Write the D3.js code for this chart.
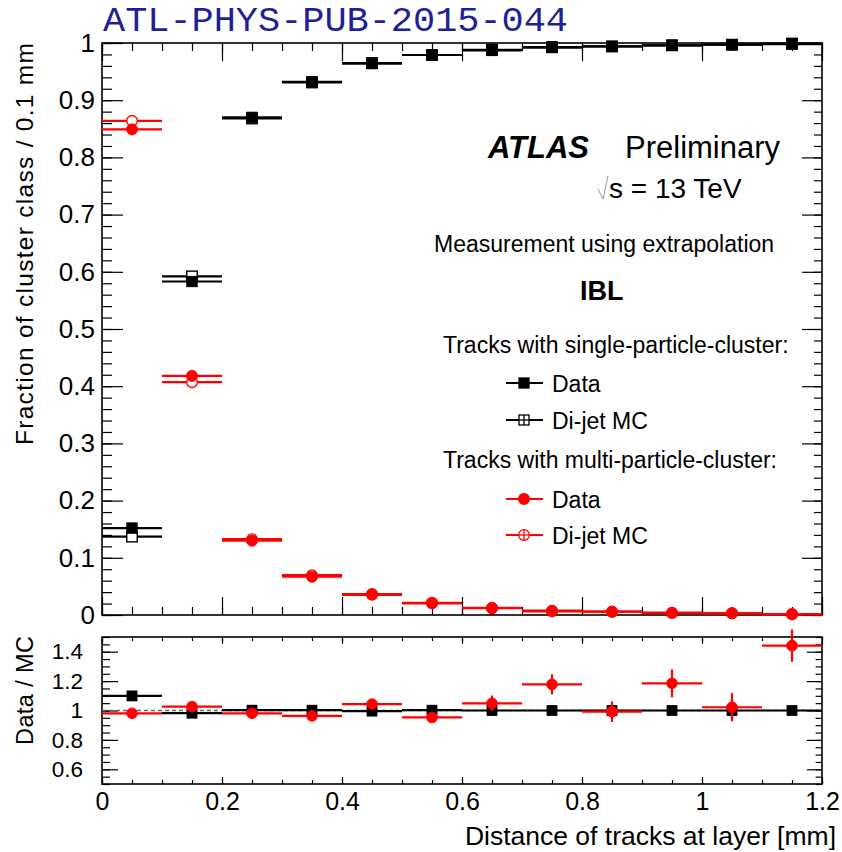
<!DOCTYPE html>
<html><head><meta charset="utf-8">
<script src="https://cdn.jsdelivr.net/npm/d3@7"></script>
<style>
body{margin:0;background:#fff}
svg text{font-family:"Liberation Sans",Arial,Helvetica,sans-serif}
</style>
</head><body>
<svg id="chart" width="842" height="852"></svg>
<script>
// ---------------- data ----------------
const binCenters = [0.05,0.15,0.25,0.35,0.45,0.55,0.65,0.75,0.85,0.95,1.05,1.15];
const binHalfWidth = 0.05;
// single-particle-cluster fractions
const singleData = [0.152,0.583,0.870,0.932,0.964,0.979,0.987,0.992,0.994,0.996,0.997,0.998];
const singleMC   = [0.137,0.592,0.868,0.931,0.965,0.979,0.988,0.993,0.994,0.996,0.997,0.999];
// multi-particle-cluster fractions
const multiData  = [0.849,0.418,0.130,0.067,0.0367,0.0204,0.0125,0.0076,0.0058,0.0040,0.0030,0.0017];
const multiMC    = [0.864,0.407,0.1325,0.0696,0.0352,0.0214,0.0119,0.0065,0.0058,0.0034,0.0029,0.0012];
// Data / MC
const ratioSingle    = [1.099,0.982,1.002,1.002,0.996,1.002,1.000,1.000,1.000,1.000,1.000,1.000];
const ratioSingleErr = [0.004,0.003,0.002,0.002,0.002,0.002,0.002,0.002,0.002,0.002,0.002,0.002];
const ratioMulti     = [0.981,1.026,0.981,0.963,1.044,0.953,1.049,1.178,0.992,1.185,1.022,1.441];
const ratioMultiErr  = [0.006,0.008,0.010,0.012,0.018,0.022,0.053,0.068,0.070,0.095,0.096,0.110];
// ticks
const mainYTicks = [0,0.1,0.2,0.3,0.4,0.5,0.6,0.7,0.8,0.9,1];
const mainYTickLabels = ["0","0.1","0.2","0.3","0.4","0.5","0.6","0.7","0.8","0.9","1"];
const ratioYTicks = [0.6,0.8,1,1.2,1.4];
const ratioYTickLabels = ["0.6","0.8","1","1.2","1.4"];
const xTicks = [0,0.2,0.4,0.6,0.8,1,1.2];
const xTickLabels = ["0","0.2","0.4","0.6","0.8","1","1.2"];

// ---------------- layout ----------------
const svg = d3.select("#chart");
const X0 = 102, X1 = 822;
const M_TOP = 43, M_BOT = 615;
const R_TOP = 637, R_BOT = 784;
const RED = "#ff0000";

const x = d3.scaleLinear().domain([0,1.2]).range([X0,X1]);
const yMain = d3.scaleLinear().domain([0,1]).range([M_BOT,M_TOP]);
const yRatio = d3.scaleLinear().domain([0.5,1.5]).range([R_BOT,R_TOP]);

// title
svg.append("text").attr("x",103).attr("y",31)
  .attr("textLength",465).attr("lengthAdjust","spacingAndGlyphs")
  .style("font-family","'Liberation Mono','Courier New',monospace")
  .style("font-size","35px").attr("fill","#1f1f96")
  .text("ATL-PHYS-PUB-2015-044");

function styleAxis(g, fs){
  g.select(".domain").remove();
  g.selectAll("line").attr("stroke","#000").attr("stroke-width",1.2);
  g.selectAll("text").attr("fill","#000")
    .style("font-family","'Liberation Sans',Arial,sans-serif").style("font-size",fs+"px");
}

function panelAxes(yScale, top, bot, yMajor, yLabels, yMajLen, yMinLen, yMinorStep, xMajLen, xMinLen, labelPad, labelFs, withXLabels){
  const yMinor = d3.range(yScale.domain()[0], yScale.domain()[1]+1e-9, yMinorStep);
  const xMinor = x.ticks(24);
  // left
  svg.append("g").attr("transform",`translate(${X0},0)`)
    .call(d3.axisLeft(yScale).tickValues(yMinor).tickSize(-yMinLen).tickFormat(""))
    .call(g=>styleAxis(g,labelFs));
  svg.append("g").attr("transform",`translate(${X0},0)`)
    .call(d3.axisLeft(yScale).tickValues(yMajor).tickSize(-yMajLen).tickPadding(labelPad)
      .tickFormat((d,i)=>yLabels[i]))
    .call(g=>styleAxis(g,labelFs));
  // right
  svg.append("g").attr("transform",`translate(${X1},0)`)
    .call(d3.axisRight(yScale).tickValues(yMinor).tickSize(-yMinLen*0.8).tickFormat(""))
    .call(g=>styleAxis(g,labelFs));
  svg.append("g").attr("transform",`translate(${X1},0)`)
    .call(d3.axisRight(yScale).tickValues(yMajor).tickSize(-yMajLen*0.95).tickFormat(""))
    .call(g=>styleAxis(g,labelFs));
  // top
  svg.append("g").attr("transform",`translate(0,${top})`)
    .call(d3.axisTop(x).tickValues(xMinor).tickSize(-xMinLen).tickFormat(""))
    .call(g=>styleAxis(g,labelFs));
  svg.append("g").attr("transform",`translate(0,${top})`)
    .call(d3.axisTop(x).tickValues(xTicks).tickSize(-xMajLen).tickFormat(""))
    .call(g=>styleAxis(g,labelFs));
  // bottom
  svg.append("g").attr("transform",`translate(0,${bot})`)
    .call(d3.axisBottom(x).tickValues(xMinor).tickSize(-xMinLen).tickFormat(""))
    .call(g=>styleAxis(g,labelFs));
  svg.append("g").attr("transform",`translate(0,${bot})`)
    .call(d3.axisBottom(x).tickValues(xTicks).tickSize(-xMajLen).tickPadding(8)
      .tickFormat(withXLabels ? ((d,i)=>xTickLabels[i]) : ""))
    .call(g=>styleAxis(g,25));
  // frame
  svg.append("rect").attr("x",X0).attr("y",top).attr("width",X1-X0).attr("height",bot-top)
    .attr("fill","none").attr("stroke","#000").attr("stroke-width",1.6);
}

panelAxes(yMain, M_TOP, M_BOT, mainYTicks, mainYTickLabels, 21, 10, 0.02, 18, 8, 7, 26, false);
panelAxes(yRatio, R_TOP, R_BOT, ratioYTicks, ratioYTickLabels, 16, 8, 0.05, 7, 4, 19, 22.5, true);

// axis titles
svg.append("text").attr("transform",`translate(33,${M_TOP}) rotate(-90)`)
  .attr("text-anchor","end").style("font-size","24.5px")
  .attr("textLength",402).attr("lengthAdjust","spacing")
  .text("Fraction of cluster class / 0.1 mm");
svg.append("text").attr("transform",`translate(33,${R_TOP-1}) rotate(-90)`)
  .attr("text-anchor","end").style("font-size","23.5px")
  .attr("textLength",109).attr("lengthAdjust","spacing")
  .text("Data / MC");
svg.append("text").attr("x",836).attr("y",845).attr("text-anchor","end")
  .style("font-size","26.5px").text("Distance of tracks at layer [mm]");

// ---------------- marks ----------------
function hbars(g, vals, yS, color, cls){
  g.selectAll("line."+cls).data(vals).join("line").attr("class",cls)
    .attr("x1",(d,i)=>x(binCenters[i]-binHalfWidth)).attr("x2",(d,i)=>x(binCenters[i]+binHalfWidth))
    .attr("y1",d=>yS(d)).attr("y2",d=>yS(d))
    .attr("stroke",color).attr("stroke-width",2.2);
}
function vbars(g, vals, errs, yS, color, cls){
  g.selectAll("line."+cls).data(vals).join("line").attr("class",cls)
    .attr("x1",(d,i)=>x(binCenters[i])).attr("x2",(d,i)=>x(binCenters[i]))
    .attr("y1",(d,i)=>yS(d-errs[i])).attr("y2",(d,i)=>yS(d+errs[i]))
    .attr("stroke",color).attr("stroke-width",2.2);
}
function squares(g, vals, yS, filled, cls, s){
  g.selectAll("rect."+cls).data(vals).join("rect").attr("class",cls)
    .attr("x",(d,i)=>x(binCenters[i])-s/2).attr("y",d=>yS(d)-s/2)
    .attr("width",s).attr("height",s)
    .attr("fill",filled?"#000":"#fff").attr("stroke","#000").attr("stroke-width",filled?0.8:1.4);
}
function circles(g, vals, yS, filled, cls, r){
  g.selectAll("circle."+cls).data(vals).join("circle").attr("class",cls)
    .attr("cx",(d,i)=>x(binCenters[i])).attr("cy",d=>yS(d)).attr("r",r)
    .attr("fill",filled?RED:"#fff").attr("stroke",RED).attr("stroke-width",filled?0.8:1.4);
}

const gMain = svg.append("g");
hbars(gMain, singleMC, yMain, "#000", "smc");
hbars(gMain, multiMC, yMain, RED, "mmc");
squares(gMain, singleMC, yMain, false, "smcm", 10.5);
circles(gMain, multiMC, yMain, false, "mmcm", 5.3);
hbars(gMain, singleData, yMain, "#000", "sd");
hbars(gMain, multiData, yMain, RED, "md");
squares(gMain, singleData, yMain, true, "sdm", 10.5);
circles(gMain, multiData, yMain, true, "mdm", 5.6);

const gRatio = svg.append("g");
gRatio.append("line").attr("x1",x(0)).attr("x2",x(1.2)).attr("y1",yRatio(1)).attr("y2",yRatio(1))
  .attr("stroke","#666").attr("stroke-width",1.5).attr("stroke-dasharray","4,3");
hbars(gRatio, ratioSingle, yRatio, "#000", "rs");
vbars(gRatio, ratioSingle, ratioSingleErr, yRatio, "#000", "rse");
squares(gRatio, ratioSingle, yRatio, true, "rsm", 10);
hbars(gRatio, ratioMulti, yRatio, RED, "rm");
vbars(gRatio, ratioMulti, ratioMultiErr, yRatio, RED, "rme");
circles(gRatio, ratioMulti, yRatio, true, "rmm", 5.4);

// ---------------- labels / legend ----------------
const T = svg.append("g");
T.append("text").attr("x",488).attr("y",158).style("font-size","31px")
  .style("font-weight","bold").style("font-style","italic").text("ATLAS");
T.append("text").attr("x",625).attr("y",158).style("font-size","31px").text("Preliminary");
T.append("path").attr("d","M598,189 L603,199 L608,176").attr("fill","none")
  .attr("stroke","#999").attr("stroke-width",1);
T.append("text").attr("x",609).attr("y",198).style("font-size","28px").text("s = 13 TeV");
T.append("text").attr("x",434).attr("y",252).style("font-size","23px").text("Measurement using extrapolation");
T.append("text").attr("x",580).attr("y",300).style("font-size","27px").style("font-weight","bold").text("IBL");
T.append("text").attr("x",443).attr("y",353).style("font-size","23px").text("Tracks with single-particle-cluster:");
T.append("text").attr("x",443).attr("y",468).style("font-size","23px").text("Tracks with multi-particle-cluster:");

const legendItems = [
  {label:"Data", color:"#000", shape:"square", filled:true, y:383},
  {label:"Di-jet MC", color:"#000", shape:"square", filled:false, y:420},
  {label:"Data", color:RED, shape:"circle", filled:true, y:499},
  {label:"Di-jet MC", color:RED, shape:"circle", filled:false, y:535}
];
legendItems.forEach(it=>{
  T.append("line").attr("x1",506).attr("x2",543).attr("y1",it.y).attr("y2",it.y)
    .attr("stroke",it.color).attr("stroke-width",2.2);
  if(it.shape==="square"){
    T.append("rect").attr("x",519).attr("y",it.y-5).attr("width",10).attr("height",10)
      .attr("fill",it.filled?"#000":"#fff").attr("stroke","#000").attr("stroke-width",1.3);
  } else {
    T.append("circle").attr("cx",524).attr("cy",it.y).attr("r",5.4)
      .attr("fill",it.filled?RED:"#fff").attr("stroke",RED).attr("stroke-width",1.3);
  }
  if(!it.filled){
    T.append("line").attr("x1",519).attr("x2",529).attr("y1",it.y).attr("y2",it.y).attr("stroke",it.color).attr("stroke-width",1.3);
    T.append("line").attr("x1",524).attr("x2",524).attr("y1",it.y-5).attr("y2",it.y+5).attr("stroke",it.color).attr("stroke-width",1.3);
  }
  T.append("text").attr("x",552).attr("y",it.y+8.5).style("font-size","23px").text(it.label);
});
</script>
</body></html>
